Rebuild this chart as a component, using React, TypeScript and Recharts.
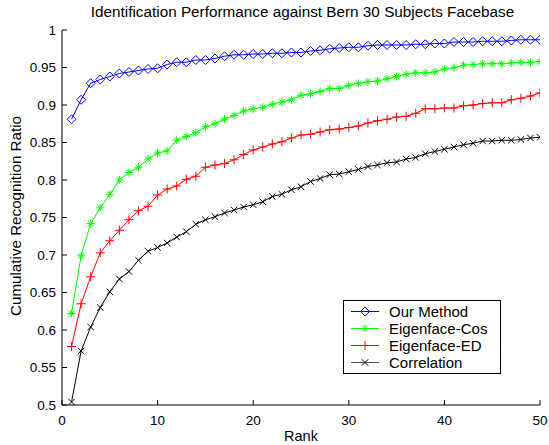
import React from 'react';
import { LineChart, Line, XAxis, YAxis } from 'recharts';

const ranks = [1,2,3,4,5,6,7,8,9,10,11,12,13,14,15,16,17,18,19,20,21,22,23,24,25,26,27,28,29,30,31,32,33,34,35,36,37,38,39,40,41,42,43,44,45,46,47,48,49,50];

const ourMethod = [0.881,0.907,0.929,0.934,0.938,0.942,0.944,0.946,0.948,0.949,0.954,0.957,0.957,0.960,0.960,0.962,0.965,0.967,0.967,0.968,0.968,0.969,0.969,0.970,0.970,0.972,0.973,0.975,0.976,0.977,0.977,0.979,0.980,0.980,0.980,0.980,0.981,0.981,0.982,0.982,0.984,0.984,0.984,0.985,0.985,0.985,0.986,0.987,0.987,0.987];
const eigenCos = [0.622,0.699,0.742,0.763,0.781,0.800,0.810,0.817,0.828,0.836,0.839,0.853,0.858,0.863,0.871,0.875,0.881,0.886,0.892,0.895,0.897,0.901,0.904,0.907,0.913,0.915,0.918,0.922,0.922,0.926,0.929,0.931,0.932,0.935,0.938,0.941,0.943,0.943,0.944,0.948,0.950,0.953,0.954,0.955,0.955,0.955,0.956,0.957,0.957,0.958];
const eigenED = [0.578,0.635,0.671,0.703,0.719,0.733,0.747,0.759,0.765,0.780,0.788,0.792,0.801,0.805,0.817,0.820,0.822,0.827,0.834,0.840,0.844,0.848,0.851,0.856,0.860,0.861,0.864,0.867,0.868,0.870,0.872,0.876,0.879,0.881,0.884,0.885,0.889,0.895,0.895,0.896,0.896,0.899,0.900,0.902,0.903,0.903,0.907,0.909,0.912,0.916];
const correlation = [0.504,0.572,0.604,0.630,0.651,0.668,0.678,0.693,0.705,0.710,0.716,0.724,0.731,0.741,0.747,0.751,0.756,0.760,0.764,0.767,0.771,0.778,0.781,0.787,0.791,0.798,0.802,0.807,0.808,0.811,0.814,0.818,0.820,0.823,0.824,0.828,0.830,0.835,0.838,0.841,0.844,0.847,0.849,0.852,0.852,0.853,0.853,0.854,0.856,0.857];

const xTicks = [0, 10, 20, 30, 40, 50];
const yTicks = [0.5, 0.55, 0.6, 0.65, 0.7, 0.75, 0.8, 0.85, 0.9, 0.95, 1];

const title = 'Identification Performance against Bern 30 Subjects Facebase';
const xLabel = 'Rank';
const yLabel = 'Cumulative Recognition Ratio';

const series = [
  { key: 'our', name: 'Our Method', values: ourMethod, color: '#0000ff', marker: 'diamond' },
  { key: 'cos', name: 'Eigenface-Cos', values: eigenCos, color: '#00ff00', marker: 'star' },
  { key: 'ed', name: 'Eigenface-ED', values: eigenED, color: '#ff0000', marker: 'plus' },
  { key: 'corr', name: 'Correlation', values: correlation, color: '#000000', marker: 'x' },
];

const data = ranks.map((r, i) => {
  const row: any = { rank: r };
  series.forEach((s) => { row[s.key] = s.values[i]; });
  return row;
});

const FONT = '"Liberation Sans", Arial, Helvetica, sans-serif';

function Marker({ type, cx, cy, color }: { type: string; cx: number; cy: number; color: string }) {
  if (cx == null || cy == null) return null;
  if (type === 'diamond') {
    const r = 4.5;
    return <polygon points={`${cx},${cy - r} ${cx + r},${cy} ${cx},${cy + r} ${cx - r},${cy}`} fill="none" stroke={color} strokeWidth={1} />;
  }
  if (type === 'star') {
    const r = 4;
    const d = r * 0.7071;
    return (
      <g stroke={color} strokeWidth={1}>
        <line x1={cx - r} y1={cy} x2={cx + r} y2={cy} />
        <line x1={cx} y1={cy - r} x2={cx} y2={cy + r} />
        <line x1={cx - d} y1={cy - d} x2={cx + d} y2={cy + d} />
        <line x1={cx - d} y1={cy + d} x2={cx + d} y2={cy - d} />
      </g>
    );
  }
  if (type === 'plus') {
    const r = 4.5;
    return (
      <g stroke={color} strokeWidth={1}>
        <line x1={cx - r} y1={cy} x2={cx + r} y2={cy} />
        <line x1={cx} y1={cy - r} x2={cx} y2={cy + r} />
      </g>
    );
  }
  const r = 3.2;
  return (
    <g stroke={color} strokeWidth={1}>
      <line x1={cx - r} y1={cy - r} x2={cx + r} y2={cy + r} />
      <line x1={cx - r} y1={cy + r} x2={cx + r} y2={cy - r} />
    </g>
  );
}

const fmtY = (v: number) => String(Number(v.toFixed(2)));

export default function App() {
  return (
    <div style={{ position: 'absolute', left: 0, top: 0, width: 549, height: 445, background: '#fff', fontFamily: FONT }}>
      <LineChart width={549} height={445} data={data} margin={{ top: 30, right: 9, bottom: 10, left: 0 }}>
        <XAxis
          dataKey="rank"
          type="number"
          domain={[0, 50]}
          ticks={xTicks}
          allowDataOverflow
          height={30}
          tickSize={-5}
          tickMargin={15}
          stroke="#000"
          tick={{ fill: '#000', fontSize: 13.5, fontFamily: FONT }}
          axisLine={{ stroke: '#000' }}
          tickLine={{ stroke: '#000' }}
        />
        <YAxis
          type="number"
          domain={[0.5, 1]}
          ticks={yTicks}
          allowDataOverflow
          width={62}
          tickSize={-5}
          tickMargin={11}
          tickFormatter={fmtY}
          stroke="#000"
          tick={{ fill: '#000', fontSize: 13.5, fontFamily: FONT }}
          axisLine={{ stroke: '#000' }}
          tickLine={{ stroke: '#000' }}
        />
        {series.map((s) => (
          <Line
            key={s.key}
            dataKey={s.key}
            name={s.name}
            stroke={s.color}
            strokeWidth={1}
            isAnimationActive={false}
            dot={(p: any) => <Marker key={`${s.key}-${p.index}`} type={s.marker} cx={p.cx} cy={p.cy} color={s.color} />}
            activeDot={false}
          />
        ))}
      </LineChart>
      <div style={{ position: 'absolute', left: 0, width: 549, top: 3, textAlign: 'center', fontSize: 15.3, paddingLeft: 56, boxSizing: 'border-box', whiteSpace: 'nowrap' }}>{title}</div>
      <div style={{ position: 'absolute', left: 62, width: 478, top: 428, textAlign: 'center', fontSize: 14.5 }}>{xLabel}</div>
      <div style={{ position: 'absolute', left: 15, top: 216, width: 0, height: 0 }}>
        <div style={{ position: 'absolute', transform: 'translate(-50%, -50%) rotate(-90deg)', whiteSpace: 'nowrap', fontSize: 15.2 }}>{yLabel}</div>
      </div>
      <div style={{ position: 'absolute', left: 343, top: 300, width: 158, height: 74, border: '1px solid #000', background: '#fff', boxSizing: 'border-box', paddingTop: 2 }}>
        {series.map((s) => (
          <div key={s.key} style={{ display: 'flex', alignItems: 'center', height: 17, fontSize: 15 }}>
            <svg width={45} height={17} style={{ flex: 'none' }}>
              <line x1={7} y1={8.5} x2={35} y2={8.5} stroke={s.key === 'corr' ? '#555' : s.color} strokeWidth={1} />
              <Marker type={s.marker} cx={21} cy={8.5} color={s.color} />
            </svg>
            <span>{s.name}</span>
          </div>
        ))}
      </div>
    </div>
  );
}
